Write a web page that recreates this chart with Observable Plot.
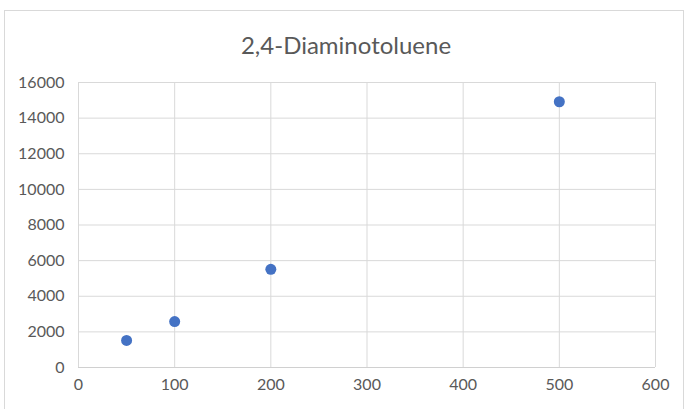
<!DOCTYPE html>
<html>
<head>
<meta charset="utf-8">
<script src="https://cdn.jsdelivr.net/npm/d3@7"></script>
<script src="https://cdn.jsdelivr.net/npm/@observablehq/plot@0.6"></script>
<style>
  html, body { margin: 0; padding: 0; background: #fff; }
  #wrap { position: relative; width: 692px; height: 409px; overflow: hidden; font-family: Lato, "Open Sans", sans-serif; }
  #frame { position: absolute; left: 4px; top: 10px; width: 680px; height: 420px; border: 1px solid #d9d9d9; box-sizing: border-box; }
  #title { position: absolute; left: 0; top: 27px; width: 692px; text-align: center; font-size: 24px; color: #595959; line-height: 36px; }
  #chart { position: absolute; left: 0; top: 0; }
</style>
</head>
<body>
<div id="wrap">
  <div id="frame"></div>
  <div id="chart"></div>
  <div id="title">2,4-Diaminotoluene</div>
</div>
<script>
const concentrations = [50, 100, 200, 500];
const responses = [1520, 2580, 5510, 14920];
const xTicks = [0, 100, 200, 300, 400, 500, 600];
const yTicks = [0, 2000, 4000, 6000, 8000, 10000, 12000, 14000, 16000];

const data = concentrations.map((c, i) => ({x: c, y: responses[i]}));

const plot = Plot.plot({
  width: 692,
  height: 409,
  marginLeft: 78,
  marginRight: 37,
  marginTop: 82,
  marginBottom: 42,
  style: {fontFamily: "Lato, 'Open Sans', sans-serif", fontSize: "16px", color: "#595959", background: "transparent"},
  x: {domain: [0, 600], ticks: xTicks, tickSize: 0, tickPadding: 11, label: null, tickFormat: d => String(d)},
  y: {domain: [0, 16000], ticks: yTicks, tickSize: 0, tickPadding: 14, label: null, tickFormat: d => String(d)},
  marks: [
    Plot.gridX(xTicks, {stroke: "#d9d9d9", strokeOpacity: 1, strokeWidth: 1}),
    Plot.gridY(yTicks, {stroke: "#d9d9d9", strokeOpacity: 1, strokeWidth: 1}),
    Plot.ruleY([0], {stroke: "#d0d0d0", strokeWidth: 1}),
    Plot.axisX({ticks: xTicks, tickSize: 0, tickPadding: 11, fill: "#595959", fontSize: 16, tickFormat: d => String(d)}),
    Plot.axisY({ticks: yTicks, tickSize: 0, tickPadding: 14, fill: "#595959", fontSize: 16, tickFormat: d => String(d)}),
    Plot.dot(data, {x: "x", y: "y", r: 5.5, fill: "#4472C4", stroke: "none"})
  ]
});
document.getElementById("chart").appendChild(plot);
</script>
</body>
</html>
